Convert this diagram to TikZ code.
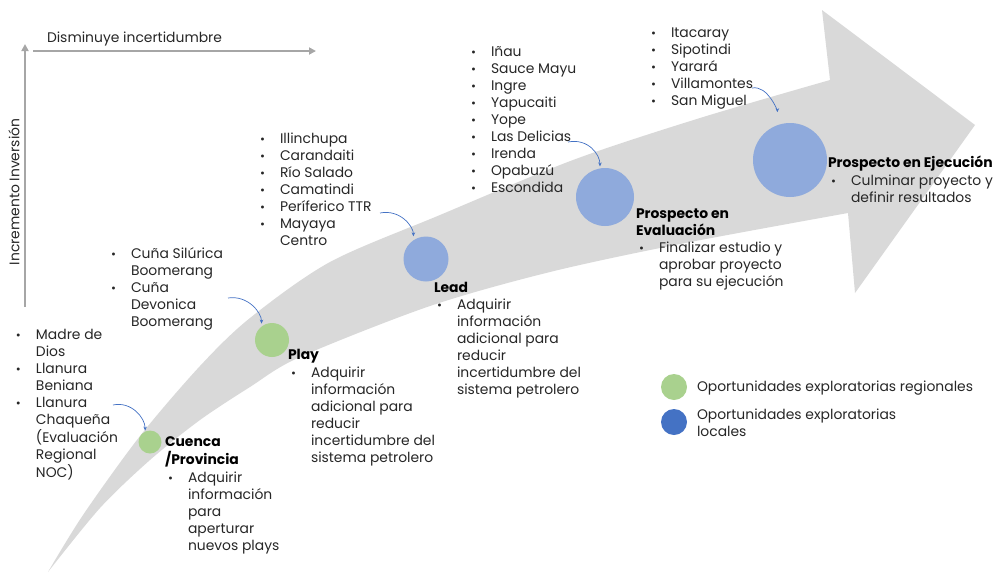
\documentclass[tikz,border=0pt]{standalone}
\usepackage{fontspec}
\setmainfont{Poppins}
\usetikzlibrary{arrows.meta}
\definecolor{bandgray}{HTML}{D9D9D9}
\definecolor{axisgray}{HTML}{A6A6A6}
\definecolor{greenc}{HTML}{A9D18E}
\definecolor{bluec}{HTML}{8FAADC}
\definecolor{blueleg}{HTML}{4472C4}
\definecolor{txt}{HTML}{262626}
\newcommand{\bl}{{\fontsize{12}{12}\selectfont\raisebox{0pt}{•}}}
\newcommand{\blist}[1]{\begin{tabular}[t]{@{}p{20pt}@{}l@{}}#1\end{tabular}}
\newcommand{\tlist}[1]{\begin{tabular}[t]{@{}l@{}}#1\end{tabular}}
\tikzset{
  txtnode/.style={inner sep=0pt, outer sep=0pt, anchor=base west, text=txt, font=\fontsize{13.9}{17}\selectfont},
  titlenode/.style={txtnode, font=\fontsize{13.9}{17}\selectfont\bfseries, text=black},
  stagec/.style={circle, inner sep=0pt, outer sep=0pt, minimum size=#1},
  bluearrow/.style={draw=blueleg, line width=0.7pt, -{Stealth[length=4pt,width=3.5pt]}},
  axisarrow/.style={draw=axisgray, line width=2pt, -{Triangle[length=7pt,width=7pt]}}
}
\begin{document}
\begin{tikzpicture}[x=1pt,y=-1pt]
\useasboundingbox (0,0) rectangle (997,574);
% big curved arrow
\fill[bandgray] plot[smooth] coordinates {(48,572) (83,515) (140,436) (200,366) (250,318) (330,262) (440,215) (573,160) (700,118) (830,80)}
  -- (822,10) -- (975,125) -- (855,293) -- (848,213)
  -- plot[smooth] coordinates {(848,213) (680,244) (550,272) (430,306) (300,357) (250,387) (200,420) (150,460) (100,508) (48,572)} -- cycle;
% axes
\coordinate (origin) at (25,307);
\coordinate (ytop) at (25,44);
\coordinate (xend) at (316,51);
\coordinate (xstart) at (33,51);
\draw[axisarrow] (origin) -- (ytop);
\draw[axisarrow] (xstart) -- (xend);
\node[txtnode] (xlab) at (47,42) {Disminuye incertidumbre};
\node[txtnode, anchor=center, rotate=90] (ylab) at (14,192) {Incremento Inversión};
% circles
\node[stagec=23pt, fill=greenc] (c1) at (150,442) {};
\node[stagec=34pt, fill=greenc] (c2) at (272,340) {};
\node[stagec=45pt, fill=bluec] (c3) at (426,259) {};
\node[stagec=58pt, fill=bluec] (c4) at (605,197) {};
\node[stagec=74pt, fill=bluec] (c5) at (790,160) {};
% item lists
\node[txtnode] (l1) at (16,339) {\blist{\bl & Madre de\\ & Dios\\ \bl & Llanura\\ & Beniana\\ \bl & Llanura\\ & Chaqueña\\ & (Evaluación\\ & Regional\\ & NOC)}};
\node[txtnode] (l2) at (111,258) {\blist{\bl & Cuña Silúrica\\ & Boomerang\\ \bl & Cuña\\ & Devonica\\ & Boomerang}};
\node[txtnode] (l3) at (260,143) {\blist{\bl & Illinchupa\\ \bl & Carandaiti\\ \bl & Río Salado\\ \bl & Camatindi\\ \bl & Períferico TTR\\ \bl & Mayaya\\ & Centro}};
\node[txtnode] (l4) at (471,56) {\blist{\bl & Iñau\\ \bl & Sauce Mayu\\ \bl & Ingre\\ \bl & Yapucaiti\\ \bl & Yope\\ \bl & Las Delicias\\ \bl & Irenda\\ \bl & Opabuzú\\ \bl & Escondida}};
\node[txtnode] (l5) at (651,37) {\blist{\bl & Itacaray\\ \bl & Sipotindi\\ \bl & Yarará\\ \bl & Villamontes\\ \bl & San Miguel}};
% stage labels
\node[titlenode] (t1) at (165,446) {\tlist{Cuenca\\ /Provincia}};
\node[txtnode] (d1) at (168,482) {\blist{\bl & Adquirir\\ & información\\ & para\\ & aperturar\\ & nuevos plays}};
\node[titlenode] (t2) at (288,359) {Play};
\node[txtnode] (d2) at (291,377) {\blist{\bl & Adquirir\\ & información\\ & adicional para\\ & reducir\\ & incertidumbre del\\ & sistema petrolero}};
\node[titlenode] (t3) at (434,292) {Lead};
\node[txtnode] (d3) at (437,309) {\blist{\bl & Adquirir\\ & información\\ & adicional para\\ & reducir\\ & incertidumbre del\\ & sistema petrolero}};
\node[titlenode] (t4) at (636,218) {\tlist{Prospecto en\\ Evaluación}};
\node[txtnode] (d4) at (639,252) {\blist{\bl & Finalizar estudio y\\ & aprobar proyecto\\ & para su ejecución}};
\node[titlenode] (t5) at (828,167) {Prospecto en Ejecución};
\node[txtnode] (d5) at (831,185) {\blist{\bl & Culminar proyecto y\\ & definir resultados}};
% small connectors
\coordinate (s1) at (113,405);
\coordinate (s2) at (228,298);
\coordinate (s3) at (380,213);
\coordinate (s4) at (568,142);
\coordinate (s5) at (752,88);
\draw[bluearrow, shorten >=1pt] (s1) .. controls +(18,-4) and +(0,-14) .. (c1.115);
\draw[bluearrow, shorten >=3pt] (s2) .. controls +(20,-3) and +(0,-14) .. (c2.128);
\draw[bluearrow, shorten >=4pt] (s3) .. controls +(20,-4) and +(0,-14) .. (c3.124);
\draw[bluearrow, shorten >=2pt] (s4) .. controls +(20,-4) and +(0,-14) .. (c4.100);
\draw[bluearrow, shorten >=13pt] (s5) .. controls +(16,-3) and +(0,-14) .. (c5.110);
% legend
\node[stagec=26pt, fill=greenc] (g1) at (674,387) {};
\node[stagec=26pt, fill=blueleg] (g2) at (674,422) {};
\node[txtnode] (gl1) at (697,391) {Oportunidades exploratorias regionales};
\node[txtnode] (gl2) at (697,419) {\tlist{Oportunidades exploratorias\\ locales}};
\end{tikzpicture}
\end{document}
